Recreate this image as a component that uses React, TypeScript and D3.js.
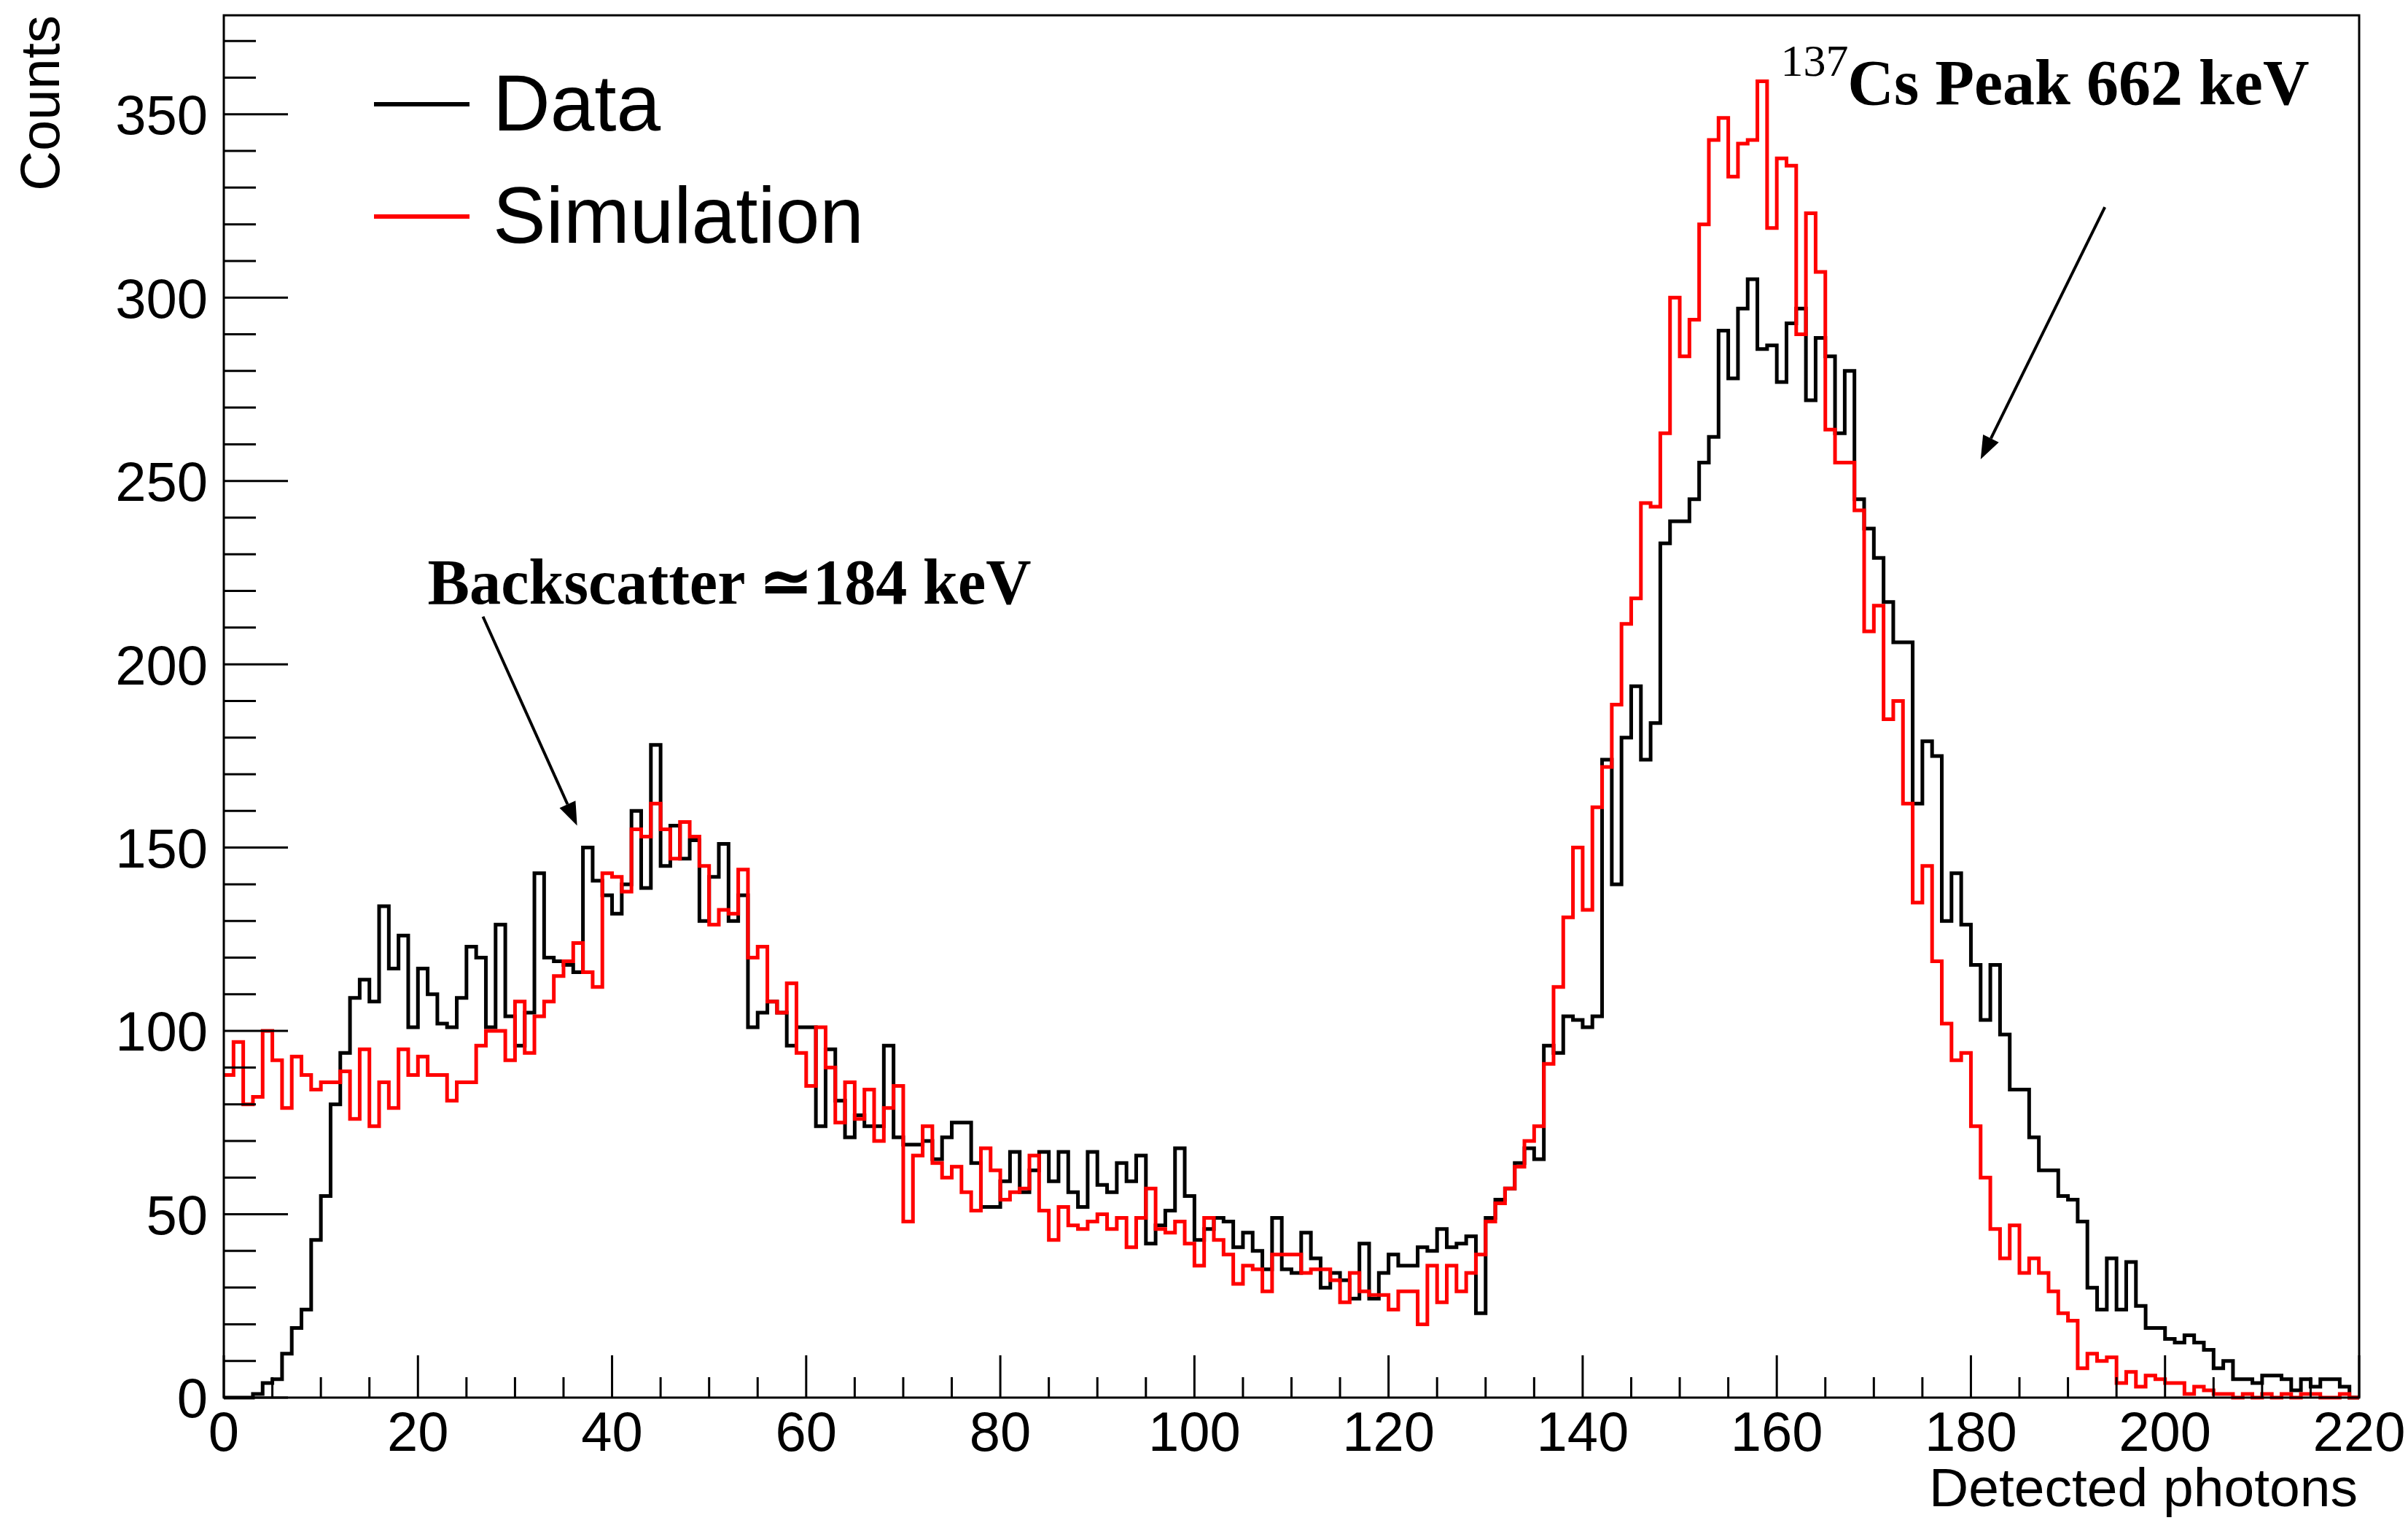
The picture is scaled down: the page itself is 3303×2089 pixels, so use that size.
import React from "react";
import * as d3 from "d3";

// page + frame geometry (px)
const WIDTH = 3303;
const HEIGHT = 2089;
const FRAME = { left: 307, right: 3236, top: 21, bottom: 1917 };

const X_MAX = 220;
const Y_MAX = 377;

// counts per 1-photon bin, bins 0..219
const dataCounts = [
  0, 0, 0, 1, 4, 5, 12, 19, 24, 43, 55, 80, 94, 109, 114, 108, 134, 117, 126, 101,
  117, 110, 102, 101, 109, 123, 120, 101, 129, 104, 96, 105, 143, 120, 119, 118, 116, 150, 141, 137,
  132, 140, 160, 139, 178, 145, 156, 147, 152, 130, 142, 151, 130, 137, 101, 105, 108, 105, 96, 101,
  101, 74, 95, 81, 71, 77, 74, 74, 96, 71, 69, 69, 70, 65, 71, 75, 75, 64, 52, 52,
  59, 67, 56, 62, 67, 59, 67, 56, 52, 67, 58, 56, 64, 59, 66, 42, 47, 51, 68, 55,
  43, 46, 49, 48, 41, 45, 40, 35, 49, 35, 34, 45, 38, 30, 34, 32, 27, 42, 27, 34,
  39, 36, 36, 41, 40, 46, 41, 42, 44, 23, 49, 54, 57, 64, 68, 65, 96, 94, 104, 103,
  101, 104, 174, 140, 180, 194, 174, 184, 233, 239, 239, 245, 255, 262, 291, 278, 297, 305, 286, 287,
  277, 293, 297, 272, 289, 284, 263, 280, 245, 237, 229, 217, 206, 206, 162, 179, 175, 130, 143, 129,
  118, 103, 118, 99, 84, 84, 71, 62, 62, 55, 54, 48, 30, 24, 38, 24, 37, 25, 19, 19,
  16, 15, 17, 15, 13, 8, 10, 5, 5, 4, 6, 6, 5, 2, 5, 3, 5, 5, 3, 0,
];

const simCounts = [
  88, 97, 80, 82, 100, 92, 79, 93, 88, 84, 86, 86, 89, 76, 95, 74, 86, 79, 95, 88,
  93, 88, 88, 81, 86, 86, 96, 100, 100, 92, 108, 94, 104, 108, 115, 119, 124, 116, 112, 143,
  142, 138, 155, 153, 162, 155, 147, 157, 153, 145, 129, 133, 132, 144, 120, 123, 108, 105, 113, 94,
  85, 101, 90, 75, 86, 76, 84, 70, 79, 85, 48, 66, 74, 64, 60, 63, 56, 51, 68, 62,
  54, 56, 57, 66, 51, 43, 52, 47, 46, 48, 50, 46, 49, 41, 49, 57, 46, 45, 48, 42,
  36, 49, 43, 39, 31, 36, 35, 29, 39, 39, 39, 34, 35, 35, 32, 26, 34, 29, 28, 28,
  24, 29, 29, 20, 36, 26, 36, 29, 34, 39, 48, 53, 57, 63, 70, 74, 91, 112, 131, 150,
  133, 161, 172, 189, 211, 218, 244, 243, 263, 300, 284, 294, 320, 343, 349, 333, 342, 343, 359, 319,
  338, 336, 290, 323, 307, 264, 255, 255, 242, 209, 216, 185, 190, 162, 135, 145, 119, 102, 92, 94,
  74, 60, 46, 38, 47, 34, 38, 34, 29, 23, 21, 8, 12, 10, 11, 4, 7, 3, 6, 5,
  4, 4, 1, 3, 2, 1, 1, 0, 1, 0, 1, 0, 1, 0, 1, 1, 0, 0, 1, 0,
];

const xMajorTicks = [0, 20, 40, 60, 80, 100, 120, 140, 160, 180, 200, 220];
const yMajorTicks = [0, 50, 100, 150, 200, 250, 300, 350];
const xMinorStep = 5;
const yMinorStep = 10;

const legendItems = [
  { label: "Data", color: "#000000" },
  { label: "Simulation", color: "#ff0000" },
];

// annotations, in data units (photons, counts)
const backscatterLabel = { x: 21.0, y: 216.5, text: "Backscatter \u2243184 keV" };
const backscatterArrow = { from: [26.7, 213], to: [36.4, 156] };
const peakLabel = { x: 160.4, y: 360.5, sup: "137", x2: 167.3, y2: 352.8, text: "Cs Peak 662 keV" };
const peakArrow = { from: [193.8, 324.7], to: [181.0, 255.9] };

const SANS = "'Liberation Sans', Arial, Helvetica, sans-serif";
const SERIF = "'Liberation Serif', 'Times New Roman', Times, serif";

function Arrow({ x1, y1, x2, y2 }: { x1: number; y1: number; x2: number; y2: number }) {
  const ang = Math.atan2(y2 - y1, x2 - x1);
  const headLen = 32;
  const halfW = 12;
  const bx = x2 - headLen * Math.cos(ang);
  const by = y2 - headLen * Math.sin(ang);
  const px = -Math.sin(ang) * halfW;
  const py = Math.cos(ang) * halfW;
  return (
    <g>
      <line x1={x1} y1={y1} x2={bx} y2={by} stroke="#000" strokeWidth={4} />
      <polygon points={`${x2},${y2} ${bx + px},${by + py} ${bx - px},${by - py}`} fill="#000" />
    </g>
  );
}

export default function App() {
  const x = d3.scaleLinear().domain([0, X_MAX]).range([FRAME.left, FRAME.right]);
  const y = d3.scaleLinear().domain([0, Y_MAX]).range([FRAME.bottom, FRAME.top]);

  // histogram outline: step after each bin's low edge, closed at the last bin's high edge
  const step = d3
    .line<number>()
    .x((_, i) => x(i))
    .y((d) => y(d))
    .curve(d3.curveStepAfter);
  const outline = (arr: number[]) => step([...arr, arr[arr.length - 1]]) || "";

  const xMinor = d3.range(0, X_MAX + 0.001, xMinorStep).filter((v) => v % 20 !== 0);
  const yMinor = d3.range(0, Y_MAX, yMinorStep).filter((v) => v % 50 !== 0);

  return (
    <div>
      <style>{"body{margin:0;overflow:hidden;background:#fff}"}</style>
      <svg width={WIDTH} height={HEIGHT} style={{ display: "block", background: "#fff" }}>
        {/* histograms */}
        <path d={outline(dataCounts)} fill="none" stroke="#000" strokeWidth={5} />
        <path d={outline(simCounts)} fill="none" stroke="#ff0000" strokeWidth={5} />

        {/* frame */}
        <rect
          x={FRAME.left}
          y={FRAME.top}
          width={FRAME.right - FRAME.left}
          height={FRAME.bottom - FRAME.top}
          fill="none"
          stroke="#000"
          strokeWidth={3}
        />

        {/* x ticks */}
        {xMajorTicks.map((t) => (
          <line key={"xM" + t} x1={x(t)} x2={x(t)} y1={FRAME.bottom} y2={FRAME.bottom - 58} stroke="#000" strokeWidth={3} />
        ))}
        {xMinor.map((t) => (
          <line key={"xm" + t} x1={x(t)} x2={x(t)} y1={FRAME.bottom} y2={FRAME.bottom - 28} stroke="#000" strokeWidth={3} />
        ))}
        {xMajorTicks.map((t) => (
          <text key={"xl" + t} x={x(t)} y={1990} textAnchor="middle" fontFamily={SANS} fontSize={76}>
            {t}
          </text>
        ))}

        {/* y ticks */}
        {yMajorTicks.map((t) => (
          <line key={"yM" + t} x1={FRAME.left} x2={FRAME.left + 88} y1={y(t)} y2={y(t)} stroke="#000" strokeWidth={3} />
        ))}
        {yMinor.map((t) => (
          <line key={"ym" + t} x1={FRAME.left} x2={FRAME.left + 44} y1={y(t)} y2={y(t)} stroke="#000" strokeWidth={3} />
        ))}
        {yMajorTicks.map((t) => (
          <text key={"yl" + t} x={285} y={y(t)} dy="0.36em" textAnchor="end" fontFamily={SANS} fontSize={76}>
            {t}
          </text>
        ))}

        {/* axis titles */}
        <text x={3234} y={2066} textAnchor="end" fontFamily={SANS} fontSize={75}>
          Detected photons
        </text>
        <text transform={`translate(81, ${FRAME.top}) rotate(-90)`} textAnchor="end" fontFamily={SANS} fontSize={76}>
          Counts
        </text>

        {/* legend */}
        {legendItems.map((d, i) => {
          const ly = 143 + i * 154;
          return (
            <g key={d.label}>
              <line x1={513} x2={644} y1={ly} y2={ly} stroke={d.color} strokeWidth={6} />
              <text x={676} y={ly + 36} fontFamily={SANS} fontSize={109}>
                {d.label}
              </text>
            </g>
          );
        })}

        {/* annotations */}
        <text
          x={x(backscatterLabel.x)}
          y={y(backscatterLabel.y)}
          fontFamily={SERIF}
          fontWeight="bold"
          fontSize={89}
          textLength={828}
          lengthAdjust="spacingAndGlyphs"
        >
          {backscatterLabel.text}
        </text>
        <Arrow
          x1={x(backscatterArrow.from[0])}
          y1={y(backscatterArrow.from[1])}
          x2={x(backscatterArrow.to[0])}
          y2={y(backscatterArrow.to[1])}
        />

        <text x={x(peakLabel.x)} y={y(peakLabel.y)} fontFamily={SERIF} fontSize={62}>
          {peakLabel.sup}
        </text>
        <text x={x(peakLabel.x2)} y={y(peakLabel.y2)} fontFamily={SERIF} fontWeight="bold" fontSize={88}>
          {peakLabel.text}
        </text>
        <Arrow
          x1={x(peakArrow.from[0])}
          y1={y(peakArrow.from[1])}
          x2={x(peakArrow.to[0])}
          y2={y(peakArrow.to[1])}
        />
      </svg>
    </div>
  );
}
